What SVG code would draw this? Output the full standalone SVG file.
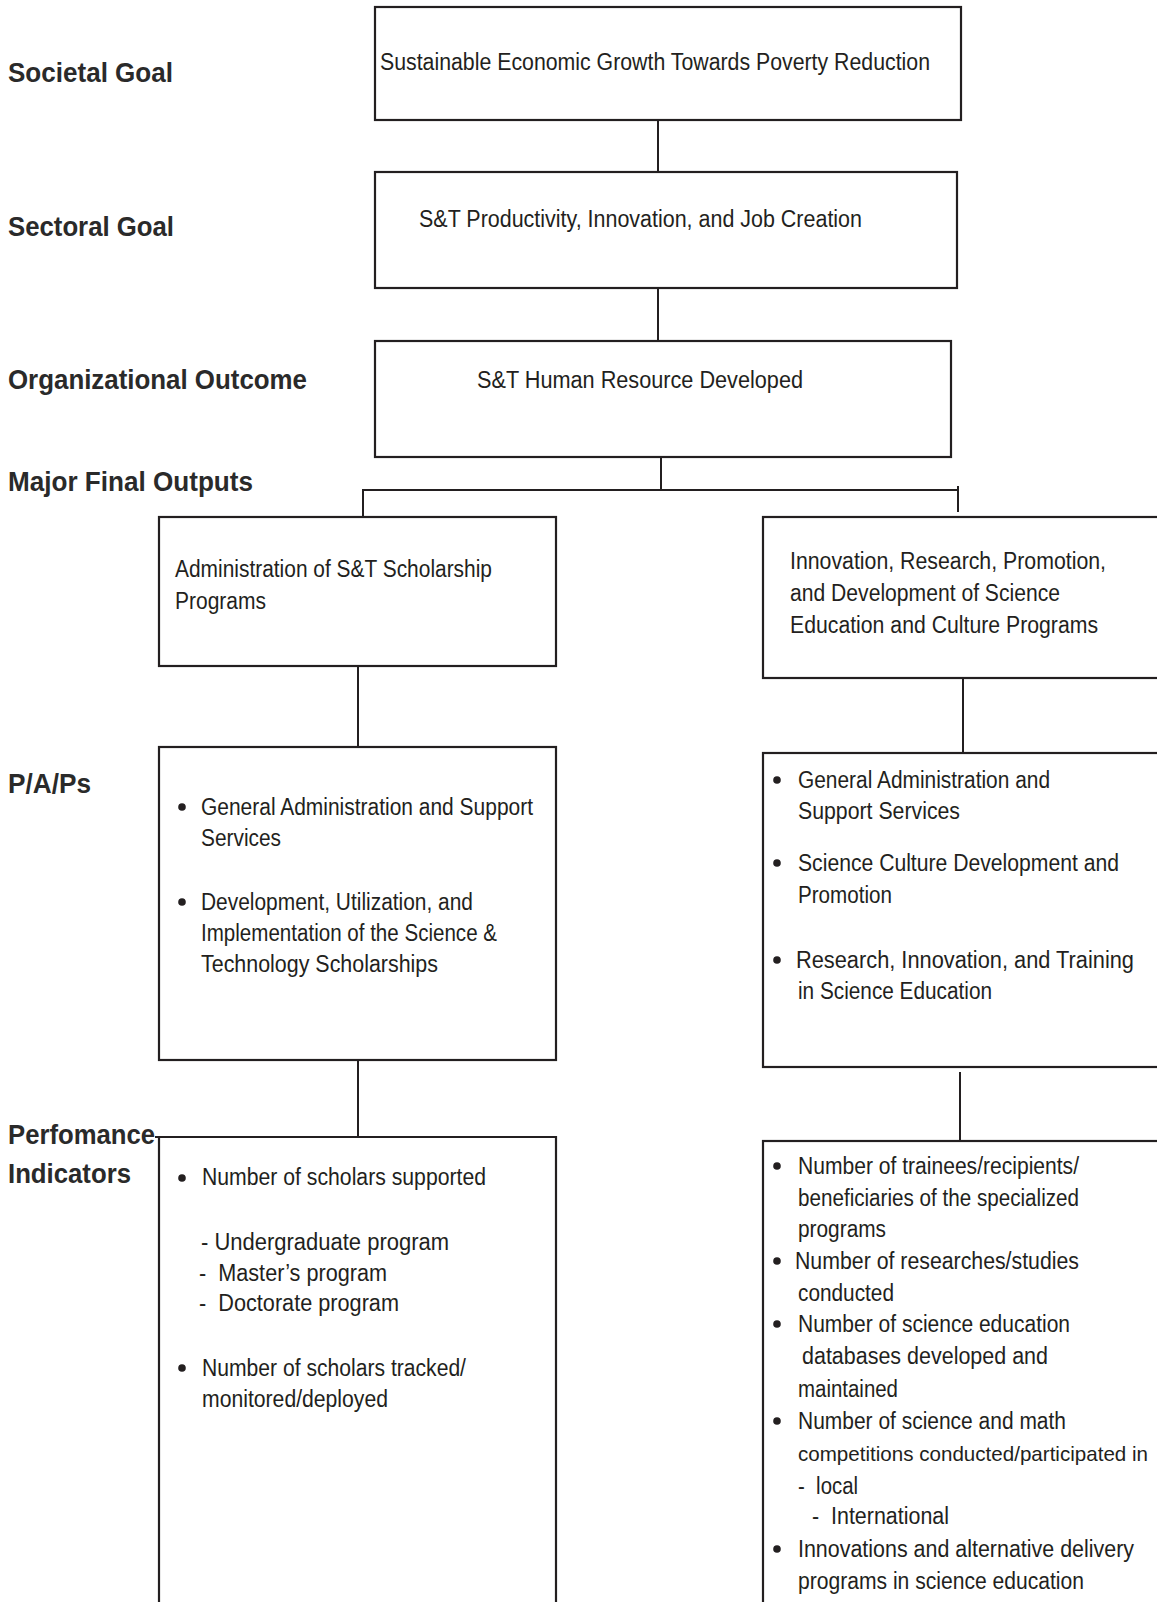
<svg xmlns="http://www.w3.org/2000/svg" width="1157" height="1602" viewBox="0 0 1157 1602">
<style>
.box{fill:#fff;stroke:#231f20;stroke-width:2.2}
.ln{fill:none;stroke:#231f20;stroke-width:2}
.t{font-family:"Liberation Sans",Arial,sans-serif;font-size:23px;fill:#231f20}
.sm{font-size:21px}
.lbl{font-family:"Liberation Sans",Arial,sans-serif;font-size:28px;font-weight:bold;fill:#2a2a2a}
.b{fill:#231f20}
</style>
<rect width="1157" height="1602" fill="#fff"/>
<g id="labels">
<text class="lbl" x="8" y="82" textLength="165" lengthAdjust="spacingAndGlyphs">Societal Goal</text>
<text class="lbl" x="8" y="236" textLength="166" lengthAdjust="spacingAndGlyphs">Sectoral Goal</text>
<text class="lbl" x="8" y="389" textLength="299" lengthAdjust="spacingAndGlyphs">Organizational Outcome</text>
<text class="lbl" x="8" y="491" textLength="245" lengthAdjust="spacingAndGlyphs">Major Final Outputs</text>
<text class="lbl" x="8" y="793" textLength="83" lengthAdjust="spacingAndGlyphs">P/A/Ps</text>
<text class="lbl" x="8" y="1144" textLength="147" lengthAdjust="spacingAndGlyphs">Perfomance</text>
<text class="lbl" x="8" y="1183" textLength="123" lengthAdjust="spacingAndGlyphs">Indicators</text>
</g>
<g id="connectors">
<line class="ln" x1="658" y1="120" x2="658" y2="172"/>
<line class="ln" x1="658" y1="288" x2="658" y2="341"/>
<line class="ln" x1="661" y1="457" x2="661" y2="490"/>
<line class="ln" x1="362" y1="490" x2="959" y2="490"/>
<line class="ln" x1="363" y1="490" x2="363" y2="517"/>
<line class="ln" x1="958" y1="486" x2="958" y2="512"/>
<line class="ln" x1="358" y1="663" x2="358" y2="747"/>
<line class="ln" x1="963" y1="678" x2="963" y2="752"/>
<line class="ln" x1="358" y1="1060" x2="358" y2="1137"/>
<line class="ln" x1="960" y1="1072" x2="960" y2="1141"/>
</g>
<g id="societal-goal">
<rect class="box" x="375" y="7" width="586" height="113"/>
<text class="t" x="380" y="70" textLength="550" lengthAdjust="spacingAndGlyphs">Sustainable Economic Growth Towards Poverty Reduction</text>
</g>
<g id="sectoral-goal">
<rect class="box" x="375" y="172" width="582" height="116"/>
<text class="t" x="419" y="227" textLength="443" lengthAdjust="spacingAndGlyphs">S&amp;T Productivity, Innovation, and Job Creation</text>
</g>
<g id="org-outcome">
<rect class="box" x="375" y="341" width="576" height="116"/>
<text class="t" x="477" y="388" textLength="326" lengthAdjust="spacingAndGlyphs">S&amp;T Human Resource Developed</text>
</g>
<g id="mfo-scholarship">
<rect class="box" x="159" y="517" width="397" height="149"/>
<text class="t" x="175" y="577" textLength="317" lengthAdjust="spacingAndGlyphs">Administration of S&amp;T Scholarship</text>
<text class="t" x="175" y="609" textLength="91" lengthAdjust="spacingAndGlyphs">Programs</text>
</g>
<g id="mfo-science-education">
<rect class="box" x="763" y="517" width="420" height="161"/>
<text class="t" x="790" y="569" textLength="316" lengthAdjust="spacingAndGlyphs">Innovation, Research, Promotion,</text>
<text class="t" x="790" y="601" textLength="270" lengthAdjust="spacingAndGlyphs">and Development of Science</text>
<text class="t" x="790" y="633" textLength="308" lengthAdjust="spacingAndGlyphs">Education and Culture Programs</text>
</g>
<g id="pap-scholarship">
<rect class="box" x="159" y="747" width="397" height="313"/>
<circle class="b" cx="182" cy="807" r="3.8"/>
<text class="t" x="201" y="815" textLength="332" lengthAdjust="spacingAndGlyphs">General Administration and Support</text>
<text class="t" x="201" y="846" textLength="80" lengthAdjust="spacingAndGlyphs">Services</text>
<circle class="b" cx="182" cy="902" r="3.8"/>
<text class="t" x="201" y="910" textLength="272" lengthAdjust="spacingAndGlyphs">Development, Utilization, and</text>
<text class="t" x="201" y="941" textLength="296" lengthAdjust="spacingAndGlyphs">Implementation of the Science &amp;</text>
<text class="t" x="201" y="972" textLength="237" lengthAdjust="spacingAndGlyphs">Technology Scholarships</text>
</g>
<g id="pap-science-education">
<rect class="box" x="763" y="753" width="420" height="314"/>
<circle class="b" cx="777" cy="780" r="3.8"/>
<text class="t" x="798" y="788" textLength="252" lengthAdjust="spacingAndGlyphs">General Administration and</text>
<text class="t" x="798" y="819" textLength="162" lengthAdjust="spacingAndGlyphs">Support Services</text>
<circle class="b" cx="777" cy="863" r="3.8"/>
<text class="t" x="798" y="871" textLength="321" lengthAdjust="spacingAndGlyphs">Science Culture Development and</text>
<text class="t" x="798" y="903" textLength="94" lengthAdjust="spacingAndGlyphs">Promotion</text>
<circle class="b" cx="777" cy="960" r="3.8"/>
<text class="t" x="796" y="968" textLength="338" lengthAdjust="spacingAndGlyphs">Research, Innovation, and Training</text>
<text class="t" x="798" y="999" textLength="194" lengthAdjust="spacingAndGlyphs">in Science Education</text>
</g>
<g id="pi-scholarship">
<path class="box" d="M155 1137 H556 V1620 H159 V1137"/>
<circle class="b" cx="182" cy="1178" r="3.8"/>
<text class="t" x="202" y="1185" textLength="284" lengthAdjust="spacingAndGlyphs">Number of scholars supported</text>
<text class="t" x="201" y="1250" textLength="248" lengthAdjust="spacingAndGlyphs">- Undergraduate program</text>
<text class="t" x="199" y="1281" textLength="188" lengthAdjust="spacingAndGlyphs" xml:space="preserve">-  Master’s program</text>
<text class="t" x="199" y="1311" textLength="200" lengthAdjust="spacingAndGlyphs" xml:space="preserve">-  Doctorate program</text>
<circle class="b" cx="182" cy="1368" r="3.8"/>
<text class="t" x="202" y="1376" textLength="264" lengthAdjust="spacingAndGlyphs">Number of scholars tracked/</text>
<text class="t" x="202" y="1407" textLength="186" lengthAdjust="spacingAndGlyphs">monitored/deployed</text>
</g>
<g id="pi-science-education">
<rect class="box" x="763" y="1141" width="420" height="480"/>
<circle class="b" cx="777" cy="1166" r="3.8"/>
<text class="t" x="798" y="1174" textLength="281" lengthAdjust="spacingAndGlyphs">Number of trainees/recipients/</text>
<text class="t" x="798" y="1206" textLength="281" lengthAdjust="spacingAndGlyphs">beneficiaries of the specialized</text>
<text class="t" x="798" y="1237" textLength="88" lengthAdjust="spacingAndGlyphs">programs</text>
<circle class="b" cx="777" cy="1261" r="3.8"/>
<text class="t" x="795" y="1269" textLength="284" lengthAdjust="spacingAndGlyphs">Number of researches/studies</text>
<text class="t" x="798" y="1301" textLength="96" lengthAdjust="spacingAndGlyphs">conducted</text>
<circle class="b" cx="777" cy="1324" r="3.8"/>
<text class="t" x="798" y="1332" textLength="272" lengthAdjust="spacingAndGlyphs">Number of science education</text>
<text class="t" x="802" y="1364" textLength="246" lengthAdjust="spacingAndGlyphs">databases developed and</text>
<text class="t" x="798" y="1397" textLength="100" lengthAdjust="spacingAndGlyphs">maintained</text>
<circle class="b" cx="777" cy="1421" r="3.8"/>
<text class="t" x="798" y="1429" textLength="268" lengthAdjust="spacingAndGlyphs">Number of science and math</text>
<text class="t sm" x="798" y="1461" textLength="350" lengthAdjust="spacingAndGlyphs">competitions conducted/participated in</text>
<text class="t" x="798" y="1494" textLength="60" lengthAdjust="spacingAndGlyphs" xml:space="preserve">-  local</text>
<text class="t" x="812" y="1524" textLength="137" lengthAdjust="spacingAndGlyphs" xml:space="preserve">-  International</text>
<circle class="b" cx="777" cy="1549" r="3.8"/>
<text class="t" x="798" y="1557" textLength="336" lengthAdjust="spacingAndGlyphs">Innovations and alternative delivery</text>
<text class="t" x="798" y="1589" textLength="286" lengthAdjust="spacingAndGlyphs">programs in science education</text>
</g>
</svg>
